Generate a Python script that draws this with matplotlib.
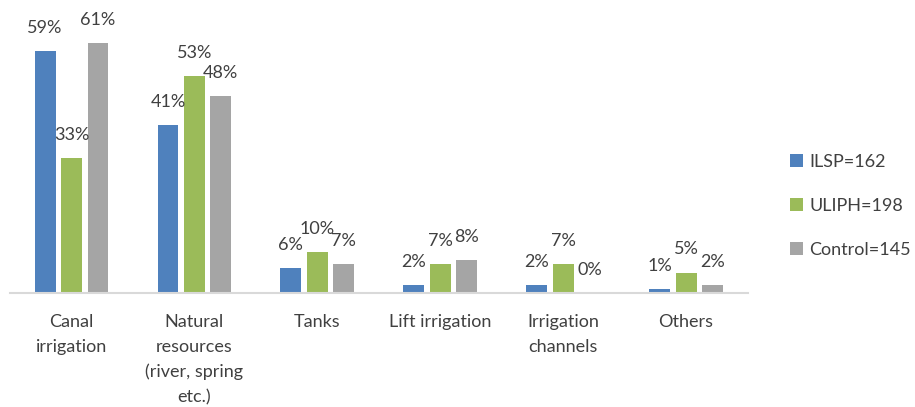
import numpy as np
import matplotlib
matplotlib.use("Agg")
import matplotlib.pyplot as plt

# data
categories = ["Canal\nirrigation", "Natural\nresources\n(river, spring\netc.)", "Tanks",
              "Lift irrigation", "Irrigation\nchannels", "Others"]
series_names = ["ILSP=162", "ULIPH=198", "Control=145"]
ilsp = [59, 41, 6, 2, 2, 1]
uliph = [33, 53, 10, 7, 7, 5]
control = [61, 48, 7, 8, 0, 2]

colors = ["#4F81BD", "#9BBB59", "#A5A5A5"]
text_color = "#404040"

plt.rcParams["font.family"] = ["Lato", "DejaVu Sans"]
fs = 13

fig = plt.figure(figsize=(9.15, 4.07), dpi=100)
ax = fig.add_axes([0.011, 0.28, 0.806, 0.72])

x = np.arange(len(categories))
width = 0.17
step = 0.215

for i, (vals, name, c) in enumerate(zip([ilsp, uliph, control], series_names, colors)):
    pos = x + (i - 1) * step
    bars = ax.bar(pos, vals, width, color=c, label=name)
    for b, v in zip(bars, vals):
        ax.annotate(f"{v}%", (b.get_x() + b.get_width() / 2, b.get_height()),
                    xytext=(0, 11), textcoords="offset points",
                    ha="center", va="bottom", fontsize=fs, color=text_color)

ax.set_xlim(-0.5, len(categories) - 0.5)
ax.set_ylim(0, 71.5)
ax.set_yticks([])
ax.set_xticks(x)
ax.set_xticklabels(categories, fontsize=fs, color=text_color, linespacing=1.68, va="top")
ax.tick_params(axis="x", length=0, pad=15)

for s in ["top", "right", "left"]:
    ax.spines[s].set_visible(False)
ax.spines["bottom"].set_color("#D9D9D9")
ax.spines["bottom"].set_linewidth(1.5)
ax.patch.set_alpha(0)

leg = fig.legend(loc="center left", bbox_to_anchor=(0.863, 0.495), frameon=False,
                 fontsize=fs, handlelength=0.75, handleheight=0.75,
                 handletextpad=0.35, labelspacing=1.55, borderaxespad=0, borderpad=0)
for t in leg.get_texts():
    t.set_color(text_color)

fig.savefig("out.png", dpi=100)
